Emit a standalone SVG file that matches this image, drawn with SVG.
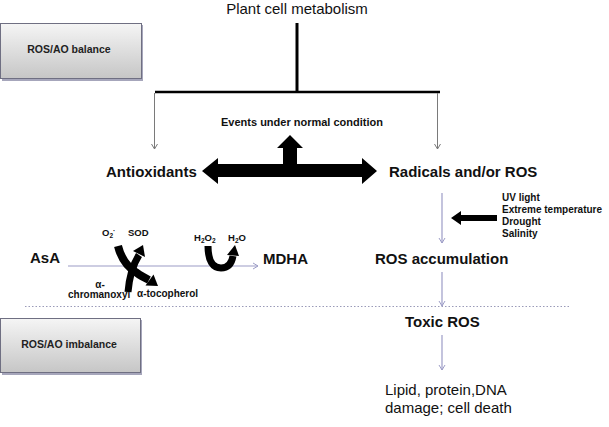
<svg xmlns="http://www.w3.org/2000/svg" width="609" height="427" viewBox="0 0 609 427">
<defs>
<linearGradient id="boxg" x1="0" y1="0" x2="0" y2="1">
<stop offset="0" stop-color="#f5f5f5"/>
<stop offset="1" stop-color="#c6c6c6"/>
</linearGradient>
<marker id="gthin" markerWidth="10" markerHeight="10" refX="6" refY="4" orient="auto" markerUnits="userSpaceOnUse">
<path d="M1,1 L6,4 L1,7" fill="none" stroke="#7a7a7a" stroke-width="1"/>
</marker>
<marker id="pthin" markerWidth="10" markerHeight="10" refX="6" refY="4" orient="auto" markerUnits="userSpaceOnUse">
<path d="M1,1 L6,4 L1,7" fill="none" stroke="#9c9cc6" stroke-width="1"/>
</marker>
</defs>
<style>
text{font-family:"Liberation Sans",Arial,sans-serif;fill:#111}
.b{font-weight:bold}
.lbl{font-size:15px;font-weight:bold}
.small{font-size:10px;font-weight:bold}
.boxt{font-size:10.5px;font-weight:bold;fill:#222}
.box{fill:url(#boxg);stroke:#6f6f82;stroke-width:1}
.shadow{fill:#a6a6bb}
.gray{stroke:#7a7a7a;stroke-width:1;fill:none}
.pur{stroke:#9c9cc6;stroke-width:1.2;fill:none}
.blk{fill:#000}
.thick{stroke:#000;fill:none}
</style>
<rect width="609" height="427" fill="#fff"/>

<g id="title">
<text x="297" y="14" font-size="15" text-anchor="middle">Plant cell metabolism</text>
</g>

<g id="box-balance">
<rect class="shadow" x="2" y="25" width="141" height="56"/>
<rect class="box" x="0.5" y="23.5" width="141" height="55"/>
<text class="boxt" x="69" y="53" text-anchor="middle">ROS/AO balance</text>
</g>

<g id="box-imbalance">
<rect class="shadow" x="2" y="320" width="140" height="55"/>
<rect class="box" x="0.5" y="318.5" width="140" height="54"/>
<text class="boxt" x="69" y="348" text-anchor="middle">ROS/AO imbalance</text>
</g>

<g id="events">
<text x="302" y="126" font-size="11" class="b" text-anchor="middle">Events under normal condition</text>
</g>

<g id="antioxidants">
<text class="lbl" x="106" y="177">Antioxidants</text>
</g>

<g id="radicals">
<text class="lbl" x="389" y="177">Radicals and/or ROS</text>
</g>

<g id="stress">
<text class="small" x="502" y="201">UV light</text>
<text class="small" x="502" y="213">Extreme temperature</text>
<text class="small" x="502" y="225">Drought</text>
<text class="small" x="502" y="237">Salinity</text>
</g>

<g id="ros-accumulation">
<text class="lbl" x="375" y="264">ROS accumulation</text>
</g>

<g id="toxic-ros">
<text class="lbl" x="405" y="327">Toxic ROS</text>
</g>

<g id="damage">
<text x="385" y="395" font-size="15">Lipid, protein,DNA</text>
<text x="385" y="413" font-size="15">damage; cell death</text>
</g>

<g id="asa">
<text class="lbl" x="30" y="263">AsA</text>
</g>

<g id="mdha">
<text class="lbl" x="263" y="264">MDHA</text>
</g>

<g id="reaction-labels">
<text class="b" x="102" y="236" font-size="9.5">O<tspan font-size="6.5" dy="2">2</tspan><tspan font-size="7" dy="-5">·</tspan></text>
<text class="b" x="128" y="236" font-size="9.5">SOD</text>
<text class="b" x="194" y="241" font-size="9.5">H<tspan font-size="6.5" dy="2">2</tspan><tspan dy="-2">O</tspan><tspan font-size="6.5" dy="2">2</tspan></text>
<text class="b" x="228" y="241" font-size="9.5">H<tspan font-size="6.5" dy="2">2</tspan><tspan dy="-2">O</tspan></text>
<text class="b" x="100" y="288" font-size="10" text-anchor="middle">α-</text>
<text class="b" x="68" y="298" font-size="10">chromanoxyl</text>
<text class="b" x="137" y="297" font-size="10">α-tocopherol</text>
</g>

<g id="connectors">
<line class="thick" x1="297" y1="23" x2="297" y2="91" stroke-width="3"/>
<line class="thick" x1="155" y1="92" x2="440" y2="92" stroke-width="2.5"/>
<line class="gray" x1="154.5" y1="93" x2="154.5" y2="149" marker-end="url(#gthin)"/>
<line class="gray" x1="437.5" y1="93" x2="437.5" y2="149" marker-end="url(#gthin)"/>
<path class="blk" d="M202,171 L218,158 L218,164 L283,164 L283,148 L277,148 L290,135 L303,148 L297,148 L297,164 L362,164 L362,158 L377,171 L362,184 L362,177 L218,177 L218,184 Z"/>
<line class="pur" x1="442" y1="193" x2="442" y2="243" marker-end="url(#pthin)"/>
<path class="blk" d="M451,218 L461,211 L461,215 L497,215 L497,221 L461,221 L461,225 Z"/>
<line class="pur" x1="442" y1="272" x2="442" y2="306" marker-end="url(#pthin)"/>
<line class="pur" x1="442" y1="335" x2="442" y2="370" marker-end="url(#pthin)"/>
<line x1="25" y1="306.5" x2="570" y2="306.5" stroke="#9a9ab8" stroke-width="1" stroke-dasharray="1.5,2"/>
<line class="pur" x1="68" y1="266" x2="258" y2="266" marker-end="url(#pthin)"/>
<path class="thick" d="M118,246 C121,258 127,267 137,273 C141,276 145,278 149,280" stroke-width="8"/>
<path class="blk" d="M145.5,285.5 L153.5,274.5 L158,286 Z"/>
<path class="thick" d="M128,292 C129,280 132,266 139,255" stroke-width="7"/>
<path class="blk" d="M133,251 L145,257 L143,245 Z"/>
<path class="thick" d="M208,246 C208,261 213,268 221,268 C229,268 232,262 233,256" stroke-width="7"/>
<path class="blk" d="M227,255 L239,256 L235,245 Z"/>
</g>
</svg>
